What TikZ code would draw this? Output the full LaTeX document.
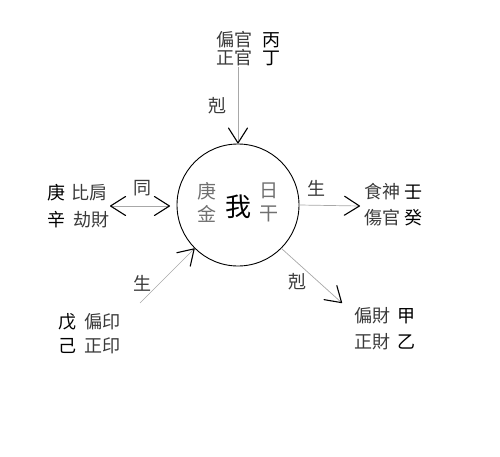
\documentclass[tikz,border=0pt]{standalone}
\usepackage{fontspec}
\newfontfamily\cjk{Noto Sans CJK TC}
\usetikzlibrary{arrows.meta}
\definecolor{txtgray}{HTML}{3A3A3A}
\definecolor{innergray}{HTML}{707070}
\definecolor{linegray}{HTML}{A8A8A8}
\tikzset{
  >={Straight Barb[length=15pt,width=19pt,color=black,line width=1.1pt,round]},
  lbl/.style={font=\cjk\fontsize{18}{18}\selectfont,text=txtgray,inner sep=0pt},
  stem/.style={font=\cjk\fontsize{18}{18}\selectfont,text=black,inner sep=0pt},
  inner/.style={font=\cjk\fontsize{19}{19}\selectfont,text=innergray,inner sep=0pt},
  conn/.style={draw=linegray,line width=0.7pt}
}
\begin{document}
\begin{tikzpicture}[x=1pt,y=-1pt]
      \useasboundingbox (0,0) rectangle (500,457);
      \draw
        (238,205) node[circle,draw=black,line width=0.9pt,minimum size=122pt,inner sep=0pt] (wo){}
        (238,207) node[font=\cjk\fontsize{26}{26}\selectfont,inner sep=0pt] (me){我}
        (207,191) node[inner] (gengin){庚}
        (207,214) node[inner] (jin){金}
        (269,191) node[inner] (ri){日}
        (269,214) node[inner] (gan){干};
      % top
      \draw
        (234,40) node[lbl] (pianguan){偏官}
        (271,40) node[stem] (bing){丙}
        (234,58) node[lbl] (zhengguan){正官}
        (271,58) node[stem] (ding){丁}
        (217,106) node[lbl] (keTop){剋}
        (238,67) coordinate (topStart);
      % left
      \draw
        (56,193) node[stem] (geng){庚}
        (89,193) node[lbl] (bijian){比肩}
        (56,220) node[stem] (xin){辛}
        (91,220) node[lbl] (jiecai){劫財}
        (142,188) node[lbl] (tong){同}
        (110,206) coordinate (leftA)
        (170,206) coordinate (leftB);
      % right
      \draw
        (316,188) node[lbl] (shengR){生}
        (382,192) node[lbl] (shishen){食神}
        (413,192) node[stem] (ren){壬}
        (382,218) node[lbl] (shangguan){傷官}
        (413,218) node[stem] (gui){癸}
        (360,206) coordinate (rightEnd);
      % lower left
      \draw
        (142,283) node[lbl] (shengL){生}
        (67,322) node[stem] (wu){戊}
        (102,322) node[lbl] (pianyin){偏印}
        (67,346) node[stem] (ji){己}
        (102,346) node[lbl] (zhengyin){正印}
        (140,303) coordinate (llStart);
      % lower right
      \draw
        (297,282) node[lbl] (keLow){剋}
        (372,316) node[lbl] (piancai){偏財}
        (406,316) node[stem] (jia){甲}
        (372,342) node[lbl] (zhengcai){正財}
        (406,342) node[stem] (yi){乙}
        (342,303) coordinate (lrEnd);
      \begin{scope}[conn]
        \draw[->] (topStart) to (wo.north);
        \draw[<->] (leftA) to (leftB);
        \draw[->] (wo.east) to (rightEnd);
        \draw[->] (llStart) to (wo.225);
        \draw[->] (wo.-45) to (lrEnd);
      \end{scope}
    \end{tikzpicture}
\end{document}
